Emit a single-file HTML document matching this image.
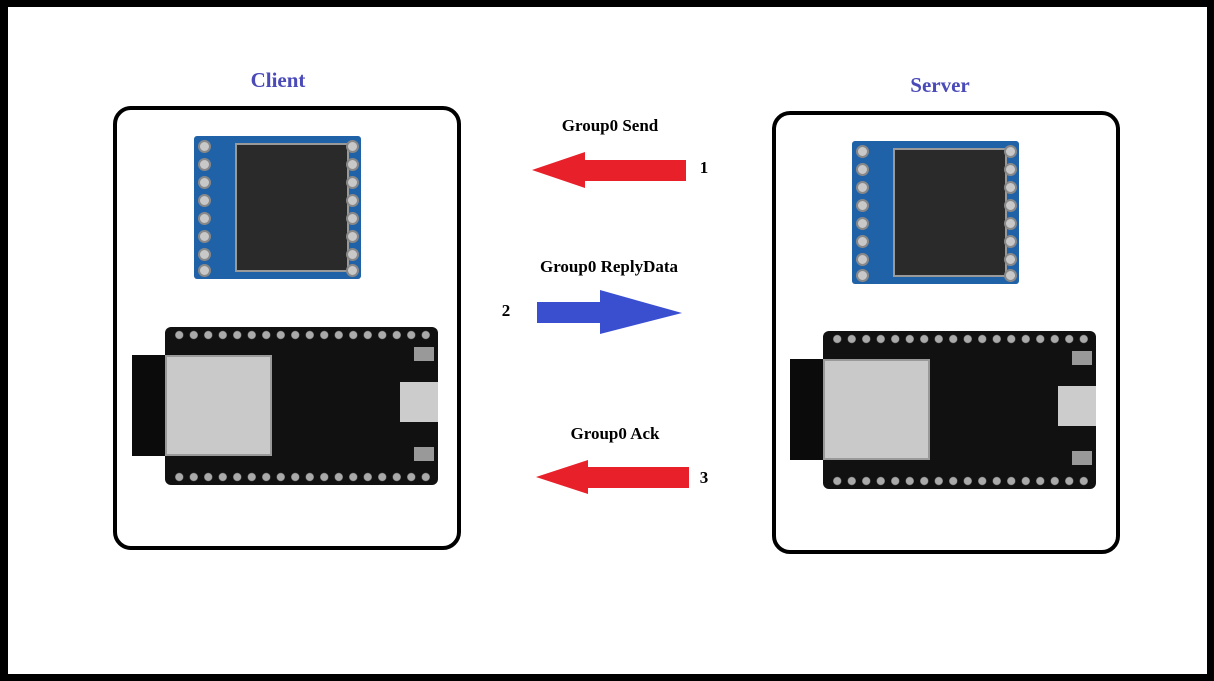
<!DOCTYPE html>
<html><head><style>
body{margin:0;width:1214px;height:681px;overflow:hidden;background:#000;position:relative;font-family:"Liberation Serif",serif}
.pg{position:absolute;left:8px;top:7px;width:1199px;height:667px;background:#fff}
.a{position:absolute}
.box{position:absolute;border:4px solid #000;border-radius:18px;box-sizing:border-box}
.lbl{position:absolute;font-weight:bold;font-size:21px;color:#4a4ab8;transform:translateX(-50%)}
.t{position:absolute;font-weight:bold;font-size:17px;color:#000;transform:translateX(-50%);white-space:nowrap}
.lora{position:absolute;width:167px;height:143px;background:#1f62a8;border-radius:3px}
.pin{position:absolute;width:9px;height:9px;border-radius:50%;background:#c8c8c8;border:2px solid #888}
.shield{position:absolute;left:41px;top:7px;width:110px;height:125px;background:#2a2a2a;border:2px solid #999}
.esp{position:absolute;width:306px;height:158px}
.pcb{position:absolute;left:33px;top:0;width:273px;height:158px;background:#111;border-radius:6px}
.ant{position:absolute;left:0;top:28px;width:40px;height:101px;background:#0b0b0b}
.mod{position:absolute;left:33px;top:28px;width:107px;height:101px;background:#c9c9c9;border:2px solid #999;box-sizing:border-box}
.row{position:absolute;left:40px;width:262px;height:10px;background:radial-gradient(circle,#aaa 0,#aaa 3.5px,transparent 4.5px) 0 0/14.5px 10px repeat-x}
</style></head><body>
<div class="pg"></div>
<div class="lbl" style="left:278px;top:68px">Client</div>
<div class="lbl" style="left:940px;top:73px">Server</div>
<div class="box" style="left:113px;top:106px;width:348px;height:444px"></div>
<div class="box" style="left:772px;top:111px;width:348px;height:443px"></div>

<div class="lora" style="left:194px;top:136px"><div class="shield"></div>
<div class="pin" style="left:4px;top:4px"></div><div class="pin" style="left:4px;top:22px"></div><div class="pin" style="left:4px;top:40px"></div><div class="pin" style="left:4px;top:58px"></div><div class="pin" style="left:4px;top:76px"></div><div class="pin" style="left:4px;top:94px"></div><div class="pin" style="left:4px;top:112px"></div><div class="pin" style="left:4px;top:128px"></div>
<div class="pin" style="left:152px;top:4px"></div><div class="pin" style="left:152px;top:22px"></div><div class="pin" style="left:152px;top:40px"></div><div class="pin" style="left:152px;top:58px"></div><div class="pin" style="left:152px;top:76px"></div><div class="pin" style="left:152px;top:94px"></div><div class="pin" style="left:152px;top:112px"></div><div class="pin" style="left:152px;top:128px"></div>
</div>
<div class="lora" style="left:852px;top:141px"><div class="shield"></div>
<div class="pin" style="left:4px;top:4px"></div><div class="pin" style="left:4px;top:22px"></div><div class="pin" style="left:4px;top:40px"></div><div class="pin" style="left:4px;top:58px"></div><div class="pin" style="left:4px;top:76px"></div><div class="pin" style="left:4px;top:94px"></div><div class="pin" style="left:4px;top:112px"></div><div class="pin" style="left:4px;top:128px"></div>
<div class="pin" style="left:152px;top:4px"></div><div class="pin" style="left:152px;top:22px"></div><div class="pin" style="left:152px;top:40px"></div><div class="pin" style="left:152px;top:58px"></div><div class="pin" style="left:152px;top:76px"></div><div class="pin" style="left:152px;top:94px"></div><div class="pin" style="left:152px;top:112px"></div><div class="pin" style="left:152px;top:128px"></div>
</div>

<div class="esp" style="left:132px;top:327px"><div class="pcb"></div><div class="ant"></div><div class="mod"></div>
<div class="row" style="top:3px"></div><div class="row" style="top:145px"></div>
<div class="a" style="left:268px;top:55px;width:38px;height:40px;background:#ccc"></div>
<div class="a" style="left:282px;top:20px;width:20px;height:14px;background:#999"></div>
<div class="a" style="left:282px;top:120px;width:20px;height:14px;background:#999"></div></div>
<div class="esp" style="left:790px;top:331px"><div class="pcb"></div><div class="ant"></div><div class="mod"></div>
<div class="row" style="top:3px"></div><div class="row" style="top:145px"></div>
<div class="a" style="left:268px;top:55px;width:38px;height:40px;background:#ccc"></div>
<div class="a" style="left:282px;top:20px;width:20px;height:14px;background:#999"></div>
<div class="a" style="left:282px;top:120px;width:20px;height:14px;background:#999"></div></div>

<svg class="a" style="left:0;top:0" width="1214" height="681">
<polygon points="532,170 585,152 585,160 686,160 686,181 585,181 585,188" fill="#e8202a"/>
<polygon points="537,302 600,302 600,290 682,313 600,334 600,323 537,323" fill="#3a4fd0"/>
<polygon points="536,477 588,460 588,467 689,467 689,488 588,488 588,494" fill="#e8202a"/>
</svg>
<div class="t" style="left:610px;top:116px">Group0 Send</div>
<div class="t" style="left:704px;top:158px">1</div>
<div class="t" style="left:609px;top:257px">Group0 ReplyData</div>
<div class="t" style="left:506px;top:301px">2</div>
<div class="t" style="left:615px;top:424px">Group0 Ack</div>
<div class="t" style="left:704px;top:468px">3</div>
</body></html>
